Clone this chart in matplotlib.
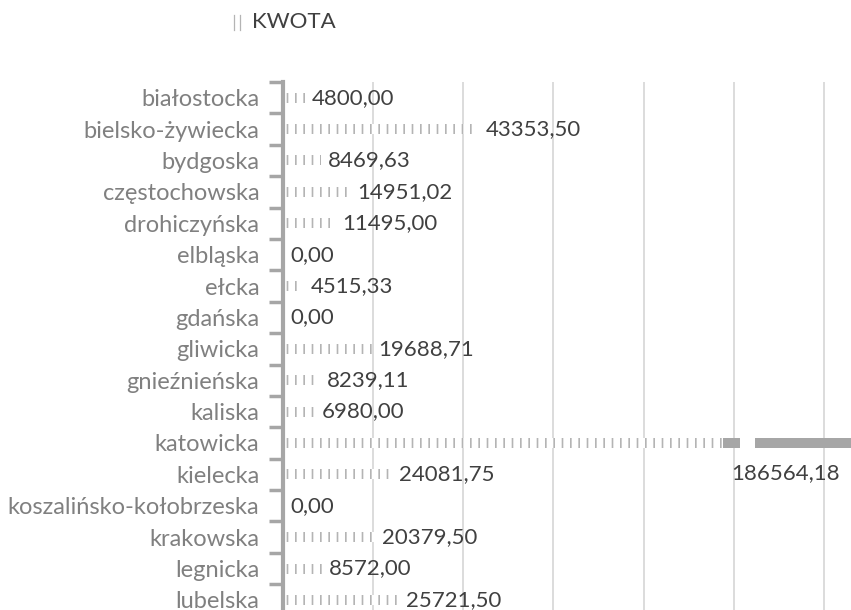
import numpy as np
import matplotlib.pyplot as plt
from matplotlib.lines import Line2D

# kategorie (diecezje) i kwoty
diecezje = ["białostocka", "bielsko-żywiecka", "bydgoska", "częstochowska",
            "drohiczyńska", "elbląska", "ełcka", "gdańska", "gliwicka",
            "gnieźnieńska", "kaliska", "katowicka", "kielecka",
            "koszalińsko-kołobrzeska", "krakowska", "legnicka", "lubelska"]
kwota = [4800.00, 43353.50, 8469.63, 14951.02, 11495.00, 0.00, 4515.33, 0.00,
         19688.71, 8239.11, 6980.00, 186564.18, 24081.75, 0.00, 20379.50,
         8572.00, 25721.50]
x_ticks = [0, 20000, 40000, 60000, 80000, 100000, 120000]
x_max = 126000
# przerwa osi na słupku "katowicka"
przerwa_od, przerwa_gap_od, przerwa_gap_do = 97500, 101300, 104600

plt.rcParams['font.family'] = ['Lato', 'DejaVu Sans']
plt.rcParams['hatch.linewidth'] = 1.2

kolor_slupka = '#a6a6a6'
kolor_hatch = '#b4b4b4'
W, H = 851, 610
fig = plt.figure(figsize=(W / 100, H / 100), dpi=100)
ax = fig.add_axes([283 / W, -0.0607, 1 - 283 / W, 0.8656 + 0.0607])

n = len(kwota)
y = np.arange(n)
h = 0.32
szer = [min(v, przerwa_od) for v in kwota]
ax.barh(y, szer, height=h, facecolor='white', edgecolor=kolor_hatch,
        linewidth=0, hatch='||', zorder=2)

# część ciągła za przerwą
ik = int(np.argmax(kwota))
ax.barh(ik, przerwa_gap_od - przerwa_od, left=przerwa_od, height=h,
        color=kolor_slupka, linewidth=0, zorder=2)
ax.barh(ik, kwota[ik] - przerwa_gap_do, left=przerwa_gap_do, height=h,
        color=kolor_slupka, linewidth=0, zorder=2)

def fmt(v):
    return f"{v:.2f}".replace('.', ',')

for i, v in enumerate(kwota):
    if i == ik:
        ax.annotate(fmt(v), (x_max, i + 0.95), xytext=(-8, 0),
                    textcoords='offset points', ha='right', va='center',
                    fontsize=16, color='#404040')
    else:
        ax.annotate(fmt(v), (v, i), xytext=(5, 0), textcoords='offset points',
                    ha='left', va='center', fontsize=16, color='#404040')

ax.set_xlim(0, x_max)
ax.set_ylim(n + 0.5, -0.5)
ax.set_xticks(x_ticks)
ax.xaxis.grid(True, color='#d9d9d9', linewidth=1.3, zorder=0)
ax.set_axisbelow(True)
ax.tick_params(axis='x', length=0, labelbottom=False)

ax.set_yticks(np.arange(n + 1) - 0.5)
ax.set_yticklabels([])
ax.set_yticks(y, labels=diecezje, minor=True)
ax.tick_params(axis='y', which='major', length=10, width=2.5,
               color=kolor_slupka)
ax.tick_params(axis='y', which='minor', length=0, pad=17, labelsize=17,
               labelcolor='#808080')

for s in ['top', 'right', 'bottom']:
    ax.spines[s].set_visible(False)
ax.spines['left'].set_color(kolor_slupka)
ax.spines['left'].set_linewidth(3)
ax.spines['left'].set_zorder(3)

# legenda: mała próbka wzoru + napis
for lx in (234, 240):
    fig.add_artist(Line2D([lx / W, lx / W], [1 - 30 / H, 1 - 15 / H],
                          transform=fig.transFigure, color=kolor_hatch,
                          linewidth=0.9))
fig.text(252 / W, 1 - 22 / H, 'KWOTA', ha='left', va='center',
         fontsize=16, color='#404040')

fig.savefig('out.png', dpi=100)
